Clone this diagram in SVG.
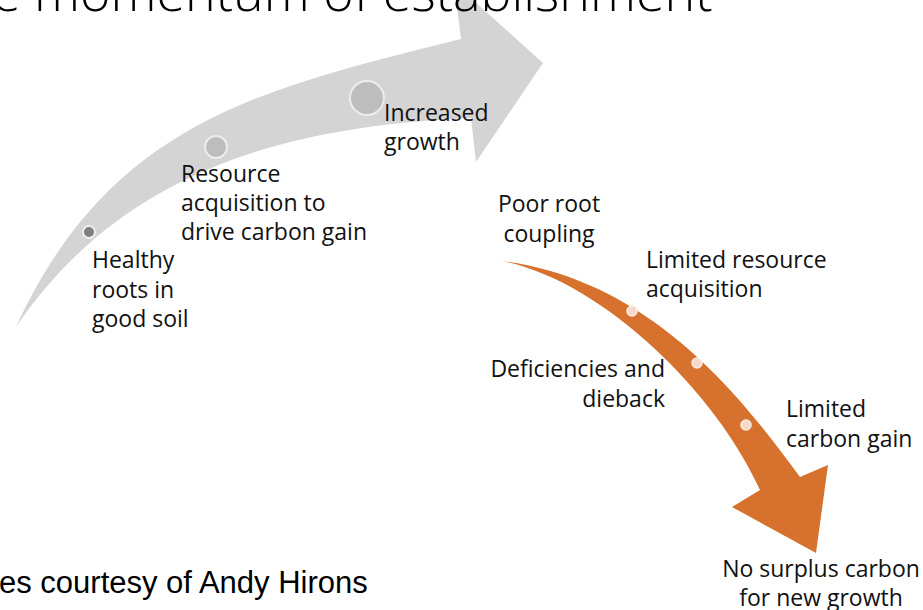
<svg xmlns="http://www.w3.org/2000/svg" width="923" height="610" viewBox="0 0 923 610">
<style>
.lbl{font-family:"Open Sans","Noto Sans",sans-serif;font-size:23px;fill:#111;}
.title{font-family:"Open Sans","Noto Sans",sans-serif;font-weight:300;font-size:52px;fill:#000;}
.cap{font-family:"Liberation Sans",Arial,sans-serif;font-size:31px;fill:#000;}
.gray{fill:#D4D4D4;}
.orange{fill:#D6722D;}
.gdot{stroke:#EDEDED;stroke-width:2;}
.odot{fill:#F6D9CB;stroke:#FBEDE6;stroke-width:1.5;}
</style>
<rect width="923" height="610" fill="#FFFFFF"/>
<g id="connectors">
  <path id="growth-arrow" class="gray" d="M16,327 C110,122 261,89 461,39 L454,-17 L543,63 L476,162 L471,118 C296,126 126,165 16,327 Z"/>
  <path id="decline-arrow" class="orange" d="M502,261 C650,280 740,395 800,477 L828,465 L816,553 L732,507 L760,490 C715,390 600,280 502,261 Z"/>
</g>
<g id="title"><text class="title" x="-8" y="11">e momentum of establishment</text></g>
<g id="node-healthy">
  <circle class="gdot" cx="89" cy="232" r="6" fill="#7F7F7F"/>
  <text class="lbl" x="92"><tspan x="92" y="268">Healthy</tspan><tspan x="92" y="298">roots in</tspan><tspan x="92" y="327">good soil</tspan></text>
</g>
<g id="node-resource">
  <circle class="gdot" cx="216" cy="147" r="11" fill="#BDBDBD"/>
  <text class="lbl"><tspan x="181" y="182">Resource</tspan><tspan x="181" y="211">acquisition to</tspan><tspan x="181" y="240">drive carbon gain</tspan></text>
</g>
<g id="node-increased">
  <circle class="gdot" cx="367" cy="98" r="17" fill="#BDBDBD"/>
  <text class="lbl"><tspan x="384" y="121">Increased</tspan><tspan x="384" y="150">growth</tspan></text>
</g>
<g id="node-poor">
  <text class="lbl" text-anchor="middle"><tspan x="549" y="212">Poor root</tspan><tspan x="549" y="242">coupling</tspan></text>
</g>
<g id="node-limited-resource">
  <circle class="odot" cx="632" cy="311" r="5"/>
  <text class="lbl"><tspan x="646" y="268">Limited resource</tspan><tspan x="646" y="297">acquisition</tspan></text>
</g>
<g id="node-deficiencies">
  <circle class="odot" cx="697" cy="363" r="5"/>
  <text class="lbl" text-anchor="end"><tspan x="665" y="377">Deficiencies and</tspan><tspan x="665" y="407">dieback</tspan></text>
</g>
<g id="node-limited-carbon">
  <circle class="odot" cx="746" cy="425" r="5"/>
  <text class="lbl"><tspan x="786" y="417">Limited</tspan><tspan x="786" y="447">carbon gain</tspan></text>
</g>
<g id="node-no-surplus">
  <text class="lbl" text-anchor="middle"><tspan x="821" y="577">No surplus carbon</tspan><tspan x="821" y="606">for new growth</tspan></text>
</g>
<g id="caption"><text class="cap" x="-1" y="593">es courtesy of Andy Hirons</text></g>
</svg>
